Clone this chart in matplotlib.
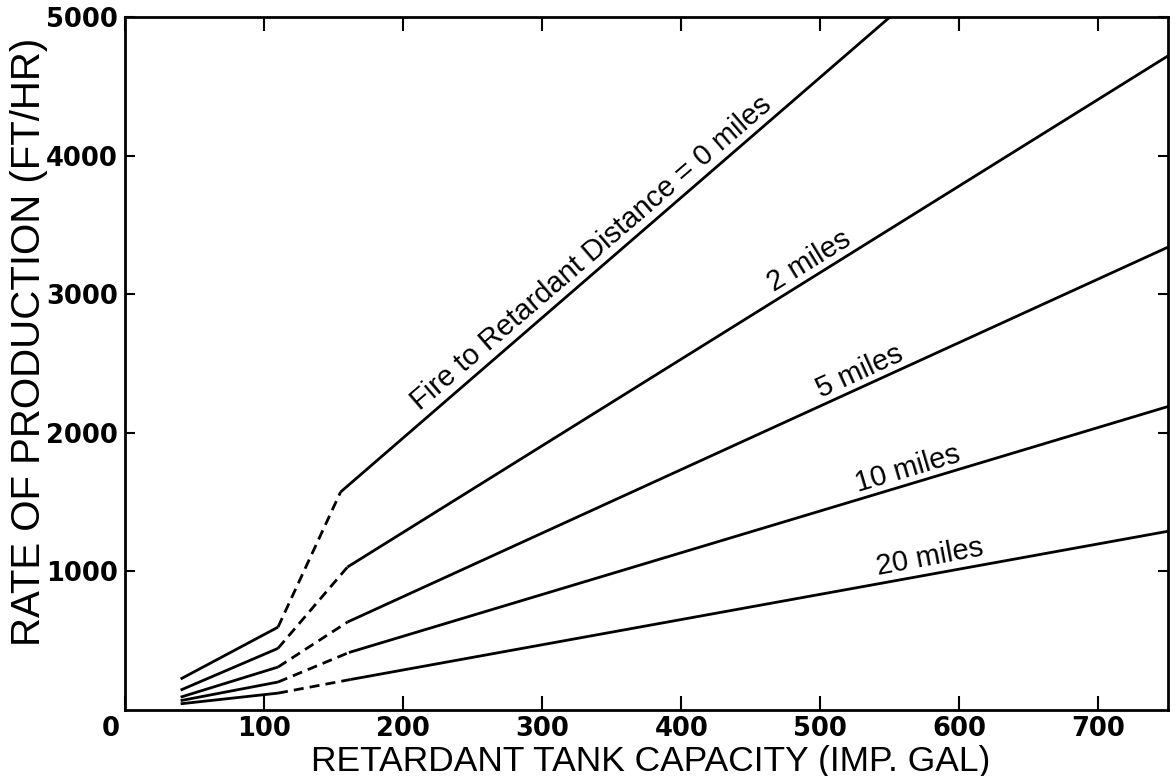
import numpy as np
import matplotlib.pyplot as plt
from matplotlib.transforms import ScaledTranslation

# Tank capacity (imp. gal) break points
cap_start = [40, 110]

# 0, 2, 5, 10, 20 miles fire-to-retardant distance
labels = ['Fire to Retardant Distance = 0 miles', '2 miles', '5 miles',
          '10 miles', '20 miles']

# solid low-capacity part (40 -> 110 gal)
low_y = [[224, 598], [144, 445], [93, 310], [68, 202], [45, 122]]
# dashed transition (110 -> x_break)
x_break = [155, 160, 160, 161, 162]
break_y = [1573, 1032, 635, 415, 220]
# solid upper part (x_break -> end)
x_end = [550, 750, 750, 750, 750]
end_y = [5000, 4720, 3340, 2190, 1290]

# label placement (data coords) and angle
lab_x = [335, 492, 528, 563, 579]
lab_y = [3300, 3240, 2445, 1738, 1103]
lab_rot = [40.7, 31.5, 24.5, 16.5, 10.5]

xticks = [0, 100, 200, 300, 400, 500, 600, 700]
yticks = [1000, 2000, 3000, 4000, 5000]

fig = plt.figure(figsize=(11.76, 7.76), dpi=100)
ax = fig.add_axes([0.1063, 0.085, 0.8869, 0.893])

lw = 2.0
for i in range(len(labels)):
    ax.plot(cap_start, low_y[i], color='black', lw=lw, solid_capstyle='butt')
    ax.plot([cap_start[1], x_break[i]], [low_y[i][1], break_y[i]],
            color='black', lw=lw, linestyle=(0, (3.6, 2.2)))
    ax.plot([x_break[i], x_end[i]], [break_y[i], end_y[i]], color='black', lw=lw,
            solid_capstyle='butt')
    ax.text(lab_x[i], lab_y[i], labels[i], rotation=lab_rot[i],
            rotation_mode='anchor', ha='center', va='center',
            fontsize=21, family='Liberation Sans')

ax.set_xlim(0, 750)
ax.set_ylim(0, 5000)

ax.set_xticks(xticks)
ax.set_xticklabels([str(v) for v in xticks])
ax.set_yticks(yticks)
ax.set_yticklabels([str(v) for v in yticks])

ax.tick_params(axis='x', direction='in', length=10, width=1.5, top=True,
               labelsize=18.5, pad=4)
ax.tick_params(axis='y', direction='in', length=7, width=1.5, right=True,
               labelsize=18.5, pad=5)
for lab in ax.get_xticklabels() + ax.get_yticklabels():
    lab.set_fontweight('bold')
    lab.set_family('DejaVu Sans')

# the origin "0" sits left of the corner
zero = ax.get_xticklabels()[0]
zero.set_transform(zero.get_transform() + ScaledTranslation(-14 / 100, 0, fig.dpi_scale_trans))

for sp in ax.spines.values():
    sp.set_linewidth(2)

ax.set_xlabel('RETARDANT TANK CAPACITY (IMP. GAL)', fontsize=25.5,
              family='Liberation Sans')
ax.set_ylabel('RATE OF PRODUCTION (FT/HR)', fontsize=29,
              family='Liberation Sans')
ax.xaxis.set_label_coords(0.504, -0.05)
ax.yaxis.set_label_coords(-0.074, 0.532)

fig.savefig('out.png', dpi=100)
